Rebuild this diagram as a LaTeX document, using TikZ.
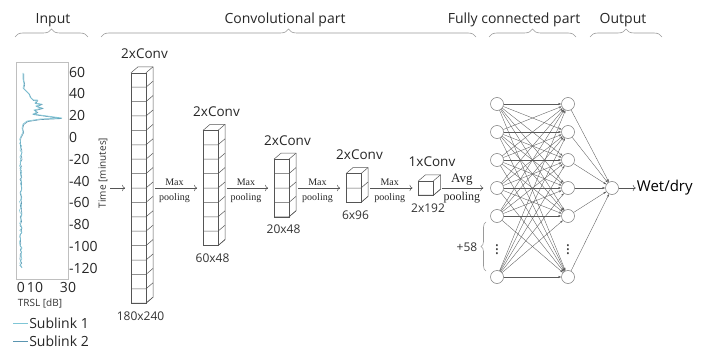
\documentclass[tikz,border=0pt]{standalone}
\usepackage{fontspec}
\setmainfont{Open Sans}
\newfontfamily\talpas{Liberation Serif}
\usepackage{amsmath}
\usetikzlibrary{calc,positioning,decorations.pathreplacing,arrows.meta}

\definecolor{vonal}{HTML}{555555}
\definecolor{kapocsszin}{HTML}{9A9A9A}
\definecolor{sub1}{HTML}{7FC6D6}
\definecolor{sub2}{HTML}{5A95B0}

\begin{document}
\begin{tikzpicture}[x=1pt,y=-1pt,
    % Stílusok a blokkokhoz és a hálózathoz
    blokk/.style={draw=vonal, fill=white, line width=0.5pt, inner sep=0pt, outer sep=0pt, minimum width=15pt},
    cimke/.style={font=\fontsize{13.5}{15}\selectfont, text=black!85, inner sep=0pt},
    meret/.style={font=\fontsize{12}{14}\selectfont, text=black!80, inner sep=0pt},
    tengely/.style={font=\fontsize{14}{16}\selectfont, text=black!85, inner sep=0pt},
    kis/.style={font=\fontsize{10}{12}\selectfont, text=black!80, inner sep=0pt},
    fejlec/.style={font=\fontsize{14}{16}\selectfont, text=black!85, inner sep=0pt},
    nyil/.style={draw=vonal, line width=0.5pt, -{To[length=3pt]}},
    talp/.style={font=\talpas\fontsize{10}{12}\selectfont, text=black!85, inner sep=1pt},
    neuron/.style={circle, draw=vonal!80, line width=0.5pt, minimum size=13pt, inner sep=0pt, fill=white},
    kapcs/.style={draw=black!65, line width=0.35pt, -{Stealth[length=3pt,width=2pt]}},
    kapocs/.style={draw=kapocsszin, line width=0.6pt, decorate, decoration={brace, amplitude=8pt}},
    pontok/.style={font=\fontsize{16}{16}\selectfont, text=black!75, inner sep=0pt}
]
    \useasboundingbox (0,0) rectangle (709,350);

    % Fejlécek és kapcsos zárójelek
    \node[fejlec, anchor=base] (bemenet) at (53,24) {Input};
    \node[fejlec, anchor=base] (konv) at (285,24) {Convolutional part};
    \node[fejlec, anchor=base] (teljes) at (514,24) {Fully connected part};
    \node[fejlec, anchor=base] (kimenet) at (623,24) {Output};
    \draw[kapocs] (15,37) -- (88,37);
    \draw[kapocs] (101,37) -- (476,37);
    \draw[kapocs] (489,37) -- (576,37);
    \draw[kapocs] (590,37) -- (662,37);

    % Bemeneti jel (TRSL idősor)
    \node[draw=black!25, line width=0.5pt, minimum width=52pt, minimum height=217pt, inner sep=0pt] (abra) at (42,170.5) {};
    \foreach \v [count=\i from 0] in {60,40,20,0,-20,-40,-60,-80,-100,-120}
        \node[tengely, anchor=west] (ty\i) at (69,72+21.8*\i) {\v};
    \node[tengely] (tx0) at (21,287) {0};
    \node[tengely] (tx10) at (35,287) {10};
    \node[tengely] (tx30) at (68,287) {30};
    \node[kis] (trsl) at (40,303) {TRSL [dB]};

    \pgfmathsetseed{11}
    \draw[sub2, line width=0.6pt, shift={(0.7,0.6)}] (23,73) -- (23,79) -- (24,84) -- (23,88) -- (26,91) -- (29,94) -- (30,97)
        -- (33,100) -- (37,100) -- (35,103) -- (41,104) -- (36,106) -- (42,108) -- (34,110) -- (37,112) -- (33,114)
        -- (61,118) -- (40,119) -- (27,121) -- (23,124) -- (22,128) -- (23,132) -- (21,136)
        -- plot[domain=137:267, samples=60] ({20.3+1.2*rand},\x);
    \pgfmathsetseed{5}
    \draw[sub1, line width=0.6pt] (23,73) -- (23,79) -- (24,84) -- (23,88) -- (26,91) -- (29,94) -- (30,97)
        -- (33,100) -- (37,100) -- (35,103) -- (41,104) -- (36,106) -- (42,108) -- (34,110) -- (37,112) -- (33,114)
        -- (62,118) -- (40,119) -- (27,121) -- (23,124) -- (22,128) -- (23,132) -- (21,136)
        -- plot[domain=137:268, samples=60] ({20.8+1.3*rand},\x);

    % Jelmagyarázat
    \draw[sub1, line width=0.6pt] (13,323) -- (28,323) node[tengely, right=1pt] (jel1) {Sublink 1};
    \draw[sub2, line width=0.6pt] (13,341) -- (28,341) node[tengely, right=1pt] (jel2) {Sublink 2};

    \node[kis, rotate=90] (ido) at (103,173) {Time [minutes]};
    \coordinate (be) at (110,188);

    % Konvolúciós blokkok
    \foreach \n/\x/\k/\szam/\dim in {b1/138.5/16/2/180x240, b2/210.5/8/2/60x48, b3/281.5/4/2/20x48, b4/353.5/2/2/6x96, b5/426/1/1/2x192} {
        \node[blokk, minimum height=\k*14.4pt] (\n) at (\x,188) {};
        \draw[vonal, line width=0.5pt] (\n.north west) -- ++(7,-6) -- ([shift={(7,-6)}]\n.north east) -- ([shift={(7,-6)}]\n.south east) -- (\n.south east);
        \draw[vonal, line width=0.5pt] (\n.north east) -- ++(7,-6);
        \foreach \i in {1,...,\k}
            \draw[vonal, line width=0.5pt] ($(\n.north west)+(0,\i*14.4)$) -- ++(15,0) -- ++(7,-6);
        \node[cimke, anchor=base] (\n-c) at ($(\n.north)+(6,-14)$) {\szam xConv};
        \node[meret, anchor=base] (\n-m) at ($(\n.south)+(2,17)$) {\dim};
    }

    % Nyilak a blokkok között
    \draw[nyil, shorten >=6pt] (be) -- (b1);
    \foreach \a/\b in {b1/b2, b2/b3, b3/b4, b4/b5}
        \draw[nyil, shorten <=9pt, shorten >=6pt] (\a) -- (\b)
            node[talp, midway, above=1pt] (\a-max) {Max}
            node[talp, midway, below=4pt] (\a-pool) {pooling};

    % Teljesen összekötött rész
    \foreach \y [count=\i] in {104,132,160,188,216,277} {
        \node[neuron] (h\i) at (497,\y) {};
        \node[neuron] (k\i) at (568,\y) {};
    }
    \node[neuron] (ki) at (612,188) {};
    \node[pontok] (pont1) at (497,247) {$\vdots$};
    \node[pontok] (pont2) at (568,247) {$\vdots$};

    \draw[nyil, shorten <=8pt, shorten >=7pt] (b5) -- (h4)
        node[talp, midway, above=1pt, font=\talpas\fontsize{13}{15}\selectfont] (atl) {Avg}
        node[talp, midway, below=3pt, font=\talpas\fontsize{12}{14}\selectfont] (atlpool) {pooling};

    \foreach \i in {1,...,6}
        \foreach \j in {1,...,6}
            \draw[kapcs] (h\i) -- (k\j);
    \foreach \j in {1,...,6}
        \draw[kapcs] (k\j) -- (ki);

    \draw[kapocs, decoration={brace, amplitude=5pt}] (486,271) -- (486,222);
    \node[meret] (plusz) at (467,247) {+58};

    % Kimenet
    \node[font=\fontsize{15}{17}\selectfont, inner sep=1pt, right=17pt of ki] (nedves) {Wet/dry};
    \draw[nyil] (ki) -- (nedves);
\end{tikzpicture}
\end{document}
